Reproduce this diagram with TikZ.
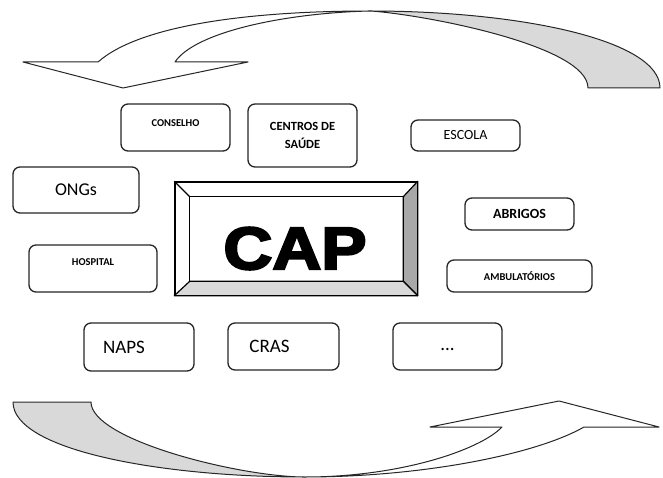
\documentclass[tikz,border=0pt]{standalone}
\usepackage{fontspec}
\setmainfont{Carlito}
\newfontfamily\capfont[FakeBold=3.5]{Liberation Sans Bold}
\usepackage{tikz}
\usetikzlibrary{positioning}
\tikzset{>=stealth}
\definecolor{bandgray}{gray}{0.85}
\definecolor{bevelgray}{gray}{0.66}
\tikzset{
  orgbox/.style={draw=black!85, line width=1.3pt, rounded corners=7pt, fill=white, inner sep=0pt},
  bigtxt/.style={font=\fontsize{19}{22}\selectfont},
  midtxt/.style={font=\fontsize{14}{17}\selectfont},
  smalltxt/.style={font=\bfseries\fontsize{10.5}{12}\selectfont},
  band/.style={draw=black!85, line width=1pt, line join=round},
}

\begin{document}
\begin{tikzpicture}[x=1pt,y=-1pt]
		\useasboundingbox (0,0) rectangle (663,478);
		% curved arrows
		\draw[band, fill=bandgray] (370,11) .. controls (520,11) and (660,40) .. (660,88) -- (588,88) .. controls (588,45) and (420,14) .. (370,11) -- cycle;
		\draw[band, fill=white] (23,62) -- (98,62) .. controls (140,25) and (250,11) .. (370,11) .. controls (285,13) and (195,32) .. (175,62) -- (248,62) -- (123,88) -- cycle;
		\draw[band, fill=bandgray] (13,402) -- (91,402) .. controls (91,440) and (240,477) .. (305,477) .. controls (160,477) and (13,450) .. (13,402) -- cycle;
		\draw[band, fill=white] (305,477) .. controls (400,477) and (480,450) .. (502,427) -- (430,427) -- (559,401) -- (659,427) -- (584,427) .. controls (535,455) and (420,477) .. (305,477) -- cycle;
		% CAP
		\node[draw, line width=1.4pt, fill=white, inner sep=0pt, minimum width=242pt, minimum height=113pt] (cap) at (296,238.5) {};
		\node[inner sep=0pt, minimum width=213pt, minimum height=84pt] (capin) at (296.5,239) {};
		\begin{scope}[line width=1.2pt, line join=round]
		  \draw[fill=bevelgray] (cap.north east) -- (capin.north east) -- (capin.south east) -- (cap.south east) -- cycle;
		  \draw[fill=bandgray]  (cap.south west) -- (capin.south west) -- (capin.south east) -- (cap.south east) -- cycle;
		  \draw (cap.north west) -- (capin.north west);
		  \draw (capin.north west) rectangle (capin.south east);
		\end{scope}
		\node[font=\capfont\fontsize{60}{60}\selectfont, inner sep=0pt] (captxt) at (295,248.5) {\scalebox{1.13}[1]{CAP}};
		% boxes
		\node[orgbox, minimum width=109pt, minimum height=47pt] (conselho) at (175.5,127.5) {};
		\node[smalltxt] (tconselho) at ([yshift=4pt]conselho.center) {CONSELHO};
		\node[orgbox, minimum width=109pt, minimum height=63pt, align=center, font=\bfseries\fontsize{12.5}{18}\selectfont] (centros) at (302.5,135.5) {CENTROS DE\\SAÚDE};
		\node[orgbox, minimum width=109pt, minimum height=31pt, midtxt] (escola) at (465.5,135.5) {ESCOLA};
		\node[orgbox, minimum width=126pt, minimum height=46pt, font=\fontsize{18}{21}\selectfont] (ongs) at (76,190) {ONGs};
		\node[orgbox, minimum width=109pt, minimum height=32pt, font=\bfseries\fontsize{14}{17}\selectfont] (abrigos) at (519.5,214) {ABRIGOS};
		\node[orgbox, minimum width=128pt, minimum height=47pt] (hospital) at (93,268.5) {};
		\node[smalltxt] (thospital) at ([yshift=6pt]hospital.center) {HOSPITAL};
		\node[orgbox, minimum width=145pt, minimum height=32pt, smalltxt] (ambulat) at (519.5,276) {AMBULATÓRIOS};
		\node[orgbox, minimum width=110pt, minimum height=48pt] (naps) at (139,347) {};
		\node[bigtxt] (tnaps) at ([xshift=-15pt]naps.center) {NAPS};
		\node[orgbox, minimum width=111pt, minimum height=47pt] (cras) at (283.5,346.5) {};
		\node[bigtxt] (tcras) at ([xshift=-14pt]cras.center) {CRAS};
		\node[orgbox, minimum width=109pt, minimum height=47pt] (outros) at (447.5,346.5) {};
		\node[bigtxt] (toutros) at ([yshift=-3pt]outros.center) {...};
	\end{tikzpicture}
\end{document}
